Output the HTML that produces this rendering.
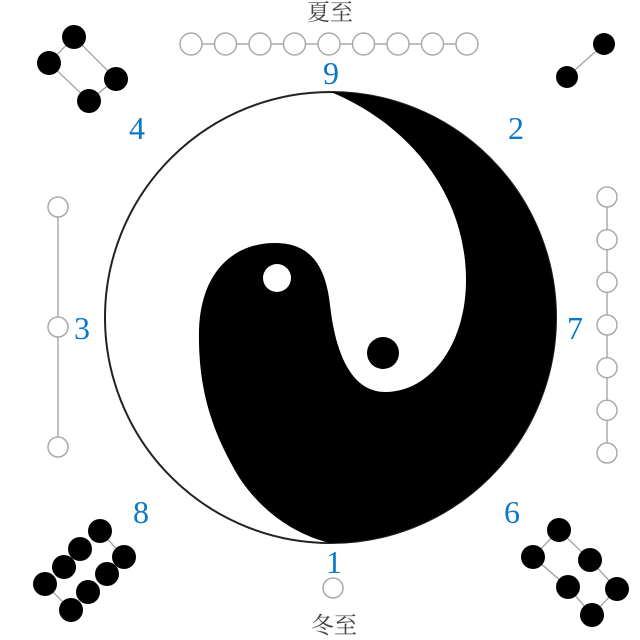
<!DOCTYPE html>
<html><head><meta charset="utf-8"><style>
html,body{margin:0;padding:0;background:#fff;width:640px;height:640px;overflow:hidden}
</style></head><body>
<svg width="640" height="640" viewBox="0 0 640 640" xmlns="http://www.w3.org/2000/svg">
<rect width="640" height="640" fill="#fff"/>
<circle cx="330.5" cy="317.5" r="225.5" fill="#fff" stroke="#222" stroke-width="2"/>
<path d="M331,92 A225.5,225.5 0 0 1 330,543 C 285,532 250,500 232,465 C 210,425 198,385 199,330 C 201,270 235,243 275,243 C 312,243 326,268 330,305 C 335,350 350,392 385,392 C 430,392 466,345 466,280 C 466,195 410,125 331,92 Z" fill="#000"/>
<circle cx="277" cy="278" r="14" fill="#fff"/>
<circle cx="383" cy="353" r="16" fill="#000"/>
<g stroke="#aaa" stroke-width="1.5" fill="#fff">
<line x1="190" y1="44" x2="466" y2="44"/>
<circle cx="191" cy="44" r="11"/><circle cx="225.5" cy="44" r="11"/><circle cx="260" cy="44" r="11"/><circle cx="294.5" cy="44" r="11"/><circle cx="329" cy="44" r="11"/><circle cx="363.5" cy="44" r="11"/><circle cx="398" cy="44" r="11"/><circle cx="432.5" cy="44" r="11"/><circle cx="467" cy="44" r="11"/>
<line x1="58" y1="207" x2="58" y2="447"/>
<circle cx="58" cy="207" r="10"/><circle cx="58" cy="327" r="10"/><circle cx="58" cy="447" r="10"/>
<line x1="607" y1="197" x2="607" y2="453"/>
<circle cx="607" cy="197" r="10"/><circle cx="607" cy="239.7" r="10"/><circle cx="607" cy="282.3" r="10"/><circle cx="607" cy="325" r="10"/><circle cx="607" cy="367.7" r="10"/><circle cx="607" cy="410.3" r="10"/><circle cx="607" cy="453" r="10"/>
<circle cx="333" cy="588" r="10"/>
<line x1="74" y1="37" x2="49" y2="63"/><line x1="49" y1="63" x2="89" y2="101"/><line x1="74" y1="37" x2="116" y2="79"/><line x1="116" y1="79" x2="89" y2="101"/>
<line x1="604" y1="44" x2="567" y2="77"/>
<line x1="45" y1="584" x2="71" y2="610"/><line x1="100" y1="531" x2="124" y2="557"/>
<line x1="559" y1="530" x2="533" y2="557"/><line x1="559" y1="530" x2="590" y2="560"/><line x1="533" y1="557" x2="568" y2="587"/><line x1="568" y1="587" x2="592" y2="615"/><line x1="590" y1="560" x2="617" y2="589"/><line x1="617" y1="589" x2="592" y2="615"/>
</g>
<g fill="#000">
<circle cx="74" cy="37" r="12"/><circle cx="49" cy="63" r="12"/><circle cx="116" cy="79" r="12"/><circle cx="89" cy="101" r="12"/>
<circle cx="604" cy="44" r="11"/><circle cx="567" cy="77" r="11"/>
<circle cx="100" cy="531" r="12"/><circle cx="80" cy="549" r="12"/><circle cx="64" cy="567" r="12"/><circle cx="45" cy="584" r="12"/>
<circle cx="124" cy="557" r="12"/><circle cx="107" cy="574" r="12"/><circle cx="88" cy="592" r="12"/><circle cx="71" cy="610" r="12"/>
<circle cx="559" cy="530" r="12"/><circle cx="533" cy="557" r="12"/><circle cx="590" cy="560" r="12"/><circle cx="568" cy="587" r="12"/><circle cx="617" cy="589" r="12"/><circle cx="592" cy="615" r="12"/>
</g>
<g font-family="Liberation Serif, serif" font-size="32" fill="#0a78c8" text-anchor="middle">
<text x="331" y="84">9</text>
<text x="137" y="139">4</text>
<text x="516" y="139">2</text>
<text x="82" y="339">3</text>
<text x="575" y="339">7</text>
<text x="141" y="523">8</text>
<text x="512" y="523">6</text>
<text x="334" y="573">1</text>
</g>
<g font-family="Liberation Serif, 'Noto Serif CJK SC', serif" font-size="23" fill="#444" text-anchor="middle">
<text x="330" y="20">夏至</text>
<text x="334" y="633">冬至</text>
</g>
</svg>
</body></html>
